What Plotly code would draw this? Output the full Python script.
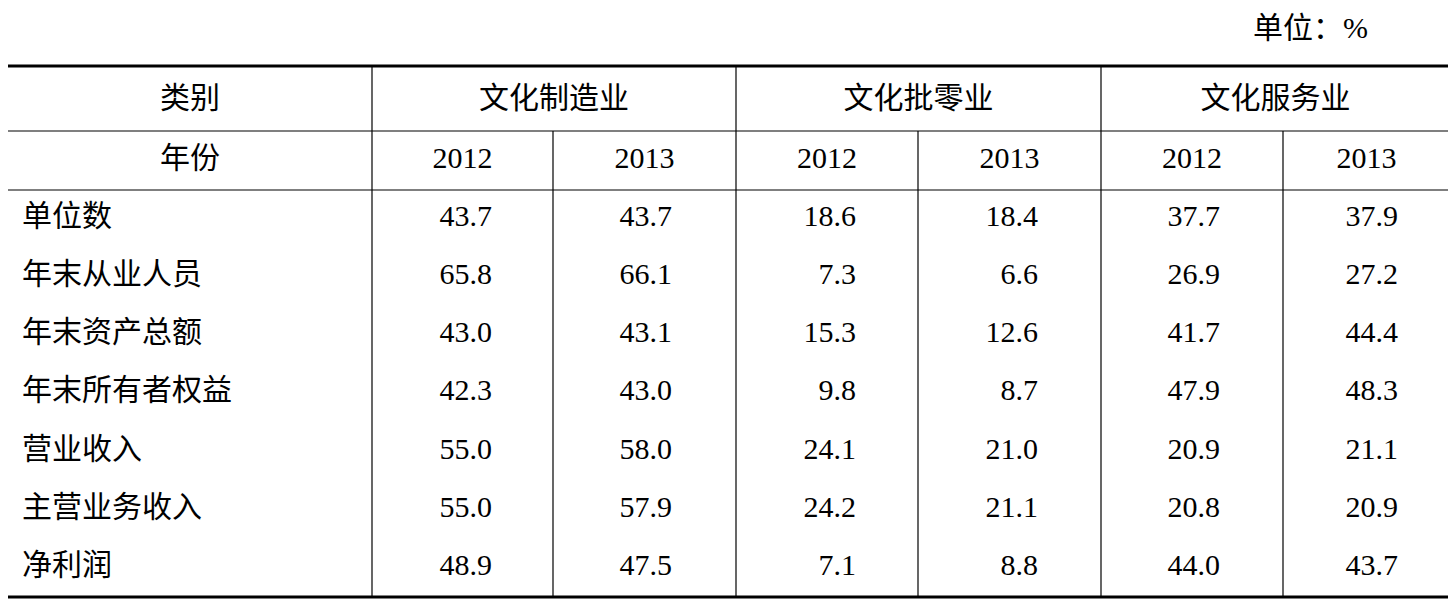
import plotly.graph_objects as go

# 表格数据
unit_label = "单位：%"
sectors = ["文化制造业", "文化批零业", "文化服务业"]
years = ["2012", "2013"]
row_labels = ["单位数", "年末从业人员", "年末资产总额", "年末所有者权益",
              "营业收入", "主营业务收入", "净利润"]
manu_2012 = [43.7, 65.8, 43.0, 42.3, 55.0, 55.0, 48.9]
manu_2013 = [43.7, 66.1, 43.1, 43.0, 58.0, 57.9, 47.5]
retail_2012 = [18.6, 7.3, 15.3, 9.8, 24.1, 24.2, 7.1]
retail_2013 = [18.4, 6.6, 12.6, 8.7, 21.0, 21.1, 8.8]
serv_2012 = [37.7, 26.9, 41.7, 47.9, 20.9, 20.8, 44.0]
serv_2013 = [37.9, 27.2, 44.4, 48.3, 21.1, 20.9, 43.7]

columns = [manu_2012, manu_2013, retail_2012, retail_2013, serv_2012, serv_2013]

FONT = "Liberation Serif, Noto Sans CJK SC"
TXT = dict(family=FONT, size=30, color="black")
col_edges = [7, 372, 553, 736, 918, 1101, 1283, 1450]
num_right = [492, 672, 856, 1038, 1220, 1398]
y_h1, y_h2 = 100, 160
row_y = [218 + 58.3 * i for i in range(len(row_labels))]

fig = go.Figure()

# 表头
fig.add_trace(go.Scatter(
    x=[190, 190] + [(col_edges[1 + 2 * i] + col_edges[3 + 2 * i]) / 2 for i in range(3)],
    y=[y_h1, y_h2] + [y_h1] * 3,
    text=["类别", "年份"] + sectors,
    mode="text", textfont=TXT, hoverinfo="skip"))
fig.add_trace(go.Scatter(
    x=[(col_edges[i + 1] + col_edges[i + 2]) / 2 for i in range(6)],
    y=[y_h2] * 6, text=years * 3,
    mode="text", textfont=TXT, hoverinfo="skip"))

# 行标签（左对齐）
fig.add_trace(go.Scatter(
    x=[22] * len(row_labels), y=row_y, text=row_labels,
    mode="text", textposition="middle right", textfont=TXT, hoverinfo="skip"))

# 数值（右对齐）
for xr, vals in zip(num_right, columns):
    fig.add_trace(go.Scatter(
        x=[xr] * len(vals), y=row_y, text=[f"{v:.1f}" for v in vals],
        mode="text", textposition="middle left", textfont=TXT, hoverinfo="skip"))

# 单位
fig.add_trace(go.Scatter(
    x=[1368], y=[30], text=[unit_label], mode="text", textposition="middle left",
    textfont=TXT, hoverinfo="skip"))

shapes = []
def hline(y, w):
    shapes.append(dict(type="line", x0=col_edges[0], x1=col_edges[-1], y0=y, y1=y,
                       line=dict(color="black", width=w)))
hline(66, 3)
hline(131, 1.2)
hline(190, 1.2)
hline(597, 3)
for i, x in enumerate(col_edges[1:-1]):
    y0 = 66 if i % 2 == 0 else 131
    shapes.append(dict(type="line", x0=x, x1=x, y0=y0, y1=597,
                       line=dict(color="black", width=1.2)))

# 页面 body 有 8px 边距，坐标范围随之平移
fig.update_layout(
    width=1456, height=607, margin=dict(l=0, r=0, t=0, b=0),
    plot_bgcolor="white", paper_bgcolor="white", showlegend=False,
    shapes=shapes,
    xaxis=dict(range=[8, 1464], visible=False, fixedrange=True),
    yaxis=dict(range=[615, 8], visible=False, fixedrange=True),
)

fig.write_html("out.html")
